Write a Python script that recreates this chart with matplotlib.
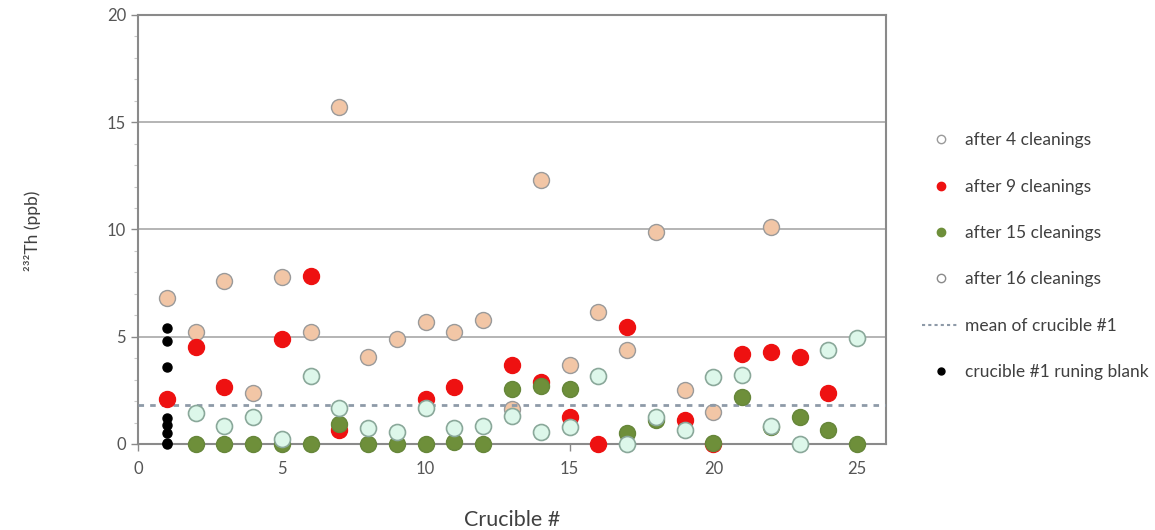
import matplotlib
matplotlib.use("Agg")
import matplotlib.pyplot as plt
from matplotlib.lines import Line2D
from matplotlib.ticker import MultipleLocator

plt.rcParams['font.family'] = ['Lato', 'DejaVu Sans']

# data (crucible number, 232Th in ppb)
x_after4 = [1, 2, 3, 4, 5, 6, 7, 8, 9, 10, 11, 12, 13, 14, 15, 16, 17, 18, 19, 20, 22]
y_after4 = [6.8, 5.2, 7.6, 2.4, 7.8, 5.2, 15.7, 4.05, 4.9, 5.7, 5.2, 5.8, 1.65, 12.3, 3.7, 6.15,
            4.4, 9.9, 2.5, 1.5, 10.1]

x_after9 = [1, 2, 3, 5, 6, 7, 10, 11, 13, 14, 15, 16, 17, 19, 20, 21, 22, 23, 24]
y_after9 = [2.1, 4.5, 2.65, 4.9, 7.85, 0.65, 2.1, 2.65, 3.7, 2.9, 1.25, 0.0, 5.45, 1.1, 0.0,
            4.2, 4.3, 4.05, 2.4]

x_after15 = [2, 3, 4, 5, 6, 7, 8, 9, 10, 11, 12, 13, 14, 15, 17, 18, 20, 21, 22, 23, 24, 25]
y_after15 = [0.0, 0.0, 0.0, 0.0, 0.0, 0.95, 0.0, 0.0, 0.0, 0.1, 0.0, 2.55, 2.7, 2.55, 0.5, 1.1,
             0.05, 2.2, 0.8, 1.25, 0.65, 0.0]

x_after16 = [2, 3, 4, 5, 6, 7, 8, 9, 10, 11, 12, 13, 14, 15, 16, 17, 18, 19, 20, 21, 22, 23, 24, 25]
y_after16 = [1.45, 0.85, 1.25, 0.25, 3.15, 1.7, 0.75, 0.55, 1.7, 0.75, 0.85, 1.3, 0.55, 0.8,
             3.15, 0.0, 1.25, 0.65, 3.1, 3.2, 0.85, 0.0, 4.4, 4.95]

x_blank = [1, 1, 1, 1, 1, 1, 1, 1]
y_blank = [5.4, 4.8, 3.6, 1.2, 0.9, 0.5, 0.05, 0.0]

mean_crucible1 = 1.8

fig = plt.figure(figsize=(11.55, 5.3), dpi=100)
ax = fig.add_axes([0.1195, 0.1623, 0.6476, 0.8094])

ms = 11.5
ax.plot(x_after4, y_after4, 'o', ms=ms, mfc='#F2C6A6', mec='#9A9A9A', mew=1.0,
        clip_on=False, zorder=3)
ax.axhline(mean_crucible1, color='#8E9AA8', lw=2, ls=(0, (2, 2.2)), zorder=3.5)
ax.plot(x_after9, y_after9, 'o', ms=ms, mfc='#EE1111', mec='#EE1111', mew=1.0,
        clip_on=False, zorder=4)
ax.plot(x_after15, y_after15, 'o', ms=ms, mfc='#6E8F3A', mec='#66863A', mew=1.0,
        clip_on=False, zorder=5)
ax.plot(x_after16, y_after16, 'o', ms=ms, mfc='#DDF7EA', mec='#8AA89A', mew=1.2,
        clip_on=False, zorder=6)
ax.plot(x_blank, y_blank, 'o', ms=6.5, mfc='black', mec='black',
        clip_on=False, zorder=7)

ax.set_xlim(0, 26)
ax.set_ylim(0, 20)
ax.xaxis.set_major_locator(MultipleLocator(5))
ax.yaxis.set_major_locator(MultipleLocator(5))
ax.yaxis.set_minor_locator(MultipleLocator(1))
ax.grid(axis='y', which='major', color='#A8A8A8', lw=1.2)
ax.set_axisbelow(True)
for s in ax.spines.values():
    s.set_color('#8A8A8A')
    s.set_linewidth(1.5)
ax.tick_params(axis='both', which='major', colors='#8A8A8A', labelcolor='#555555',
               labelsize=12, length=5, width=1)
ax.tick_params(axis='y', which='minor', colors='#C8C8C8', length=3, width=0.8)
ax.tick_params(axis='x', pad=7)

ax.set_xlabel('Crucible #', fontsize=15.5, color='#404040', labelpad=24)
fig.text(0.028, 0.565, '²³²Th (ppb)', rotation=90, fontsize=12.5, color='#404040',
         ha='center', va='center')

handles = [
    Line2D([], [], ls='none', marker='o', ms=6, mfc='white', mec='#9A9A9A'),
    Line2D([], [], ls='none', marker='o', ms=6, mfc='#EE1111', mec='#EE1111'),
    Line2D([], [], ls='none', marker='o', ms=6, mfc='#6E8F3A', mec='#6E8F3A'),
    Line2D([], [], ls='none', marker='o', ms=6, mfc='white', mec='#8A8A8A'),
    Line2D([], [], color='#8E9AA8', lw=1.5, ls=(0, (1.5, 1.5))),
    Line2D([], [], ls='none', marker='o', ms=5, mfc='black', mec='black'),
]
labels = ['after 4 cleanings', 'after 9 cleanings', 'after 15 cleanings',
          'after 16 cleanings', 'mean of crucible #1', 'crucible #1 runing blank']
fig.legend(handles, labels, loc='upper left', bbox_to_anchor=(0.785, 0.78),
           frameon=False, fontsize=12.5, labelspacing=1.75, handlelength=2.1,
           handletextpad=0.36, labelcolor='#404040')

fig.savefig('out.png', dpi=100)
